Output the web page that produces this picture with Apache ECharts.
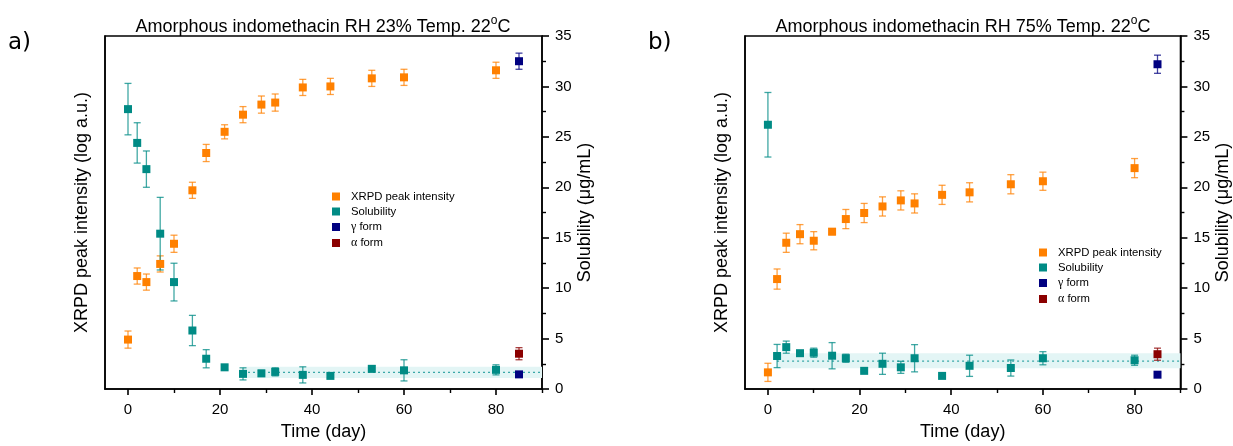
<!DOCTYPE html>
<html>
<head>
<meta charset="utf-8">
<script src="https://cdn.jsdelivr.net/npm/echarts@6/dist/echarts.min.js"></script>
<style>html,body{margin:0;padding:0;background:#fff;}#c{width:1233px;height:446px;}</style>
</head>
<body>
<div id="c"></div>
<script>
// ---------- data ----------
const days = [0, 2, 4, 7, 10, 14, 17, 21, 25, 29, 32, 38, 44, 53, 60, 80];
const formDay = 85;

// panel a) RH 23%
const xrpdA    = [4.9, 11.2, 10.6, 12.4, 14.4, 19.7, 23.4, 25.5, 27.2, 28.2, 28.4, 29.9, 30.0, 30.8, 30.9, 31.6];
const xrpdAErr = [0.85, 0.8, 0.8, 0.8, 0.85, 0.8, 0.85, 0.7, 0.8, 0.85, 0.85, 0.8, 0.8, 0.8, 0.8, 0.8];
const solA     = [27.75, 24.4, 21.8, 15.4, 10.6, 5.8, 3.0, 2.15, 1.5, 1.55, 1.7, 1.4, 1.3, 2.0, 1.85, 1.9];
const solAErr  = [2.55, 2.0, 1.8, 3.6, 1.87, 1.5, 0.9, 0.2, 0.6, 0.3, 0.4, 0.8, 0.2, 0.3, 1.05, 0.5];
const gammaA    = [32.5, 1.45];
const gammaAErr = [0.8, 0.2];
const alphaA    = [3.5];
const alphaAErr = [0.6];
const bandA = {from: 25, mean: 1.65, low: 1.1, high: 2.2};

// panel b) RH 75%
const xrpdB    = [1.65, 10.9, 14.5, 15.35, 14.7, 15.6, 16.85, 17.45, 18.1, 18.7, 18.4, 19.25, 19.5, 20.3, 20.6, 21.9];
const xrpdBErr = [0.9, 1.0, 0.95, 0.95, 0.9, 0.3, 0.95, 0.95, 0.95, 0.95, 0.95, 0.95, 0.95, 0.95, 0.9, 0.95];
const solB     = [26.2, 3.27, 4.15, 3.55, 3.6, 3.3, 3.05, 1.8, 2.5, 2.15, 3.05, 1.3, 2.3, 2.08, 3.05, 2.85];
const solBErr  = [3.2, 1.15, 0.6, 0.2, 0.45, 1.3, 0.4, 0.1, 1.05, 0.6, 1.35, 0.1, 1.05, 0.8, 0.65, 0.5];
const gammaB    = [32.2, 1.42];
const gammaBErr = [0.9, 0.2];
const alphaB    = [3.45];
const alphaBErr = [0.6];
const bandB = {from: 2, mean: 2.77, low: 2.05, high: 3.55};

const xTicks = [0, 20, 40, 60, 80];
const xMinorTicks = [10, 30, 50, 70, 90];
const seriesNames = ['XRPD peak intensity', 'Solubility', 'γ form', 'α form'];
const titles = ['Amorphous indomethacin RH 23% Temp. 22', 'Amorphous indomethacin RH 75% Temp. 22'];

// ---------- styling ----------
const COL = {xrpd: '#ff8000', sol: '#008b85', gamma: '#000080', alpha: '#8b0000'};
const FONT = 'Liberation Sans, Arial, sans-serif';

const chart = echarts.init(document.getElementById('c'), null, {renderer: 'canvas'});

function pts(xs, ys, es) { return ys.map((v, i) => [xs[i], v, es[i]]); }
function same(x, ys, es) { return ys.map((v, i) => [x, v, es[i]]); }

function errSeries(data, color, gi) {
  return {
    type: 'custom', xAxisIndex: gi * 2, yAxisIndex: gi * 2 + 1, z: 3, silent: true,
    data: data, encode: {x: 0, y: 1},
    renderItem: function (params, api) {
      const x = api.value(0), y = api.value(1), e = api.value(2);
      const t = api.coord([x, y + e]), b = api.coord([x, y - e]);
      const hw = 3.5;
      const st = {stroke: color, lineWidth: 1.3, opacity: 0.75};
      return {type: 'group', children: [
        {type: 'line', shape: {x1: t[0], y1: t[1], x2: b[0], y2: b[1]}, style: st},
        {type: 'line', shape: {x1: t[0] - hw, y1: t[1], x2: t[0] + hw, y2: t[1]}, style: st},
        {type: 'line', shape: {x1: b[0] - hw, y1: b[1], x2: b[0] + hw, y2: b[1]}, style: st}
      ]};
    }
  };
}
function scat(name, data, color, gi) {
  return {
    type: 'scatter', name: name, xAxisIndex: gi * 2, yAxisIndex: gi * 2 + 1, z: 4,
    symbol: 'rect', symbolSize: 8, itemStyle: {color: color, opacity: 1},
    data: data.map(d => [d[0], d[1]])
  };
}
function band(b, gi) {
  return {
    type: 'line', xAxisIndex: gi * 2, yAxisIndex: gi * 2 + 1, z: 2, silent: true,
    showSymbol: false, symbol: 'none',
    data: [[b.from, b.mean], [90, b.mean]],
    lineStyle: {color: '#3aa8a8', width: 1.2, type: [2, 3]},
    markArea: {silent: true, itemStyle: {color: '#e3f5f5'},
      data: [[{coord: [b.from, b.low]}, {coord: [90, b.high]}]]}
  };
}

const grids = [
  {left: 105, top: 36, width: 437, height: 353},
  {left: 745, top: 36, width: 437, height: 353}
];

const xAxes = [], yAxes = [];
grids.forEach((g, gi) => {
  xAxes.push({
    type: 'value', gridIndex: gi, min: -5, max: 90,
    name: 'Time (day)', nameLocation: 'middle', nameGap: 34,
    nameTextStyle: {fontFamily: FONT, fontSize: 18, color: '#000'},
    axisLine: {show: true, onZero: false, lineStyle: {color: '#000', width: 1.6}},
    axisTick: {show: true, length: 6, customValues: xTicks, lineStyle: {color: '#000', width: 1.6}},
    axisLabel: {show: true, customValues: xTicks, margin: 13, fontFamily: FONT, fontSize: 15, color: '#000'},
    splitLine: {show: false}
  });
  // minor ticks axis
  xAxes.push({
    type: 'value', gridIndex: gi, min: -5, max: 90, position: 'bottom',
    axisLine: {show: false, onZero: false},
    axisTick: {show: true, length: 4, customValues: xMinorTicks, lineStyle: {color: '#000', width: 1.4}},
    axisLabel: {show: false}, splitLine: {show: false}
  });
  yAxes.push({
    type: 'value', gridIndex: gi, min: 0, max: 35, interval: 5, position: 'left',
    name: 'XRPD peak intensity (log a.u.)', nameLocation: 'middle', nameGap: 14, nameRotate: 90,
    nameTextStyle: {fontFamily: FONT, fontSize: 18, color: '#000'},
    axisLine: {show: true, onZero: false, lineStyle: {color: '#000', width: 1.6}},
    axisTick: {show: false}, axisLabel: {show: false}, splitLine: {show: false}
  });
  yAxes.push({
    type: 'value', gridIndex: gi, min: 0, max: 35, interval: 5, position: 'right',
    name: 'Solubility (μg/mL)', nameLocation: 'middle', nameGap: 33, nameRotate: 90,
    nameTextStyle: {fontFamily: FONT, fontSize: 18, color: '#000'},
    axisLine: {show: true, onZero: false, lineStyle: {color: '#000', width: 1.6}},
    axisTick: {show: true, length: 7, lineStyle: {color: '#000', width: 1.6}},
    minorTick: {show: true, splitNumber: 2, length: 4, lineStyle: {color: '#000', width: 1.4}},
    axisLabel: {show: true, margin: 13, fontFamily: FONT, fontSize: 15, color: '#000'},
    splitLine: {show: false}
  });
});

const series = [
  band(bandA, 0),
  errSeries(pts(days, xrpdA, xrpdAErr), COL.xrpd, 0),
  errSeries(pts(days, solA, solAErr), COL.sol, 0),
  errSeries(same(formDay, gammaA, gammaAErr), COL.gamma, 0),
  errSeries(same(formDay, alphaA, alphaAErr), COL.alpha, 0),
  scat(seriesNames[0], pts(days, xrpdA, xrpdAErr), COL.xrpd, 0),
  scat(seriesNames[1], pts(days, solA, solAErr), COL.sol, 0),
  scat(seriesNames[2], same(formDay, gammaA, gammaAErr), COL.gamma, 0),
  scat(seriesNames[3], same(formDay, alphaA, alphaAErr), COL.alpha, 0),
  band(bandB, 1),
  errSeries(pts(days, xrpdB, xrpdBErr), COL.xrpd, 1),
  errSeries(pts(days, solB, solBErr), COL.sol, 1),
  errSeries(same(formDay, gammaB, gammaBErr), COL.gamma, 1),
  errSeries(same(formDay, alphaB, alphaBErr), COL.alpha, 1),
  scat(seriesNames[0], pts(days, xrpdB, xrpdBErr), COL.xrpd, 1),
  scat(seriesNames[1], pts(days, solB, solBErr), COL.sol, 1),
  scat(seriesNames[2], same(formDay, gammaB, gammaBErr), COL.gamma, 1),
  scat(seriesNames[3], same(formDay, alphaB, alphaBErr), COL.alpha, 1)
];

function legend(left, top) {
  return {
    data: seriesNames, orient: 'vertical', left: left, top: top,
    icon: 'rect', itemWidth: 8, itemHeight: 8, itemGap: 4, selectedMode: false,
    textStyle: {fontFamily: FONT, fontSize: 11.3, color: '#000', padding: [0, 0, 0, 6],
      rich: {g: {fontFamily: 'Liberation Serif, Times New Roman, serif', fontSize: 12}}},
    formatter: function (n) {
      if (n === 'γ form') return '{g|γ} form';
      if (n === 'α form') return '{g|α} form';
      return n;
    }
  };
}

function titleGraphic(txt, cx) {
  return {
    type: 'text', x: cx, y: 14, z: 10,
    style: {
      text: '{n|' + txt + '}{s|o}{n|C}', align: 'center', verticalAlign: 'top',
      rich: {
        n: {fontFamily: FONT, fontSize: 18, color: '#000', lineHeight: 22, verticalAlign: 'bottom'},
        s: {fontFamily: FONT, fontSize: 12, color: '#000', lineHeight: 22, verticalAlign: 'top', padding: [1, 0, 0, 0]}
      }
    }
  };
}

chart.setOption({
  backgroundColor: '#fff',
  animation: false,
  grid: grids.map(g => Object.assign({show: true, borderColor: '#000', borderWidth: 1.4, backgroundColor: 'transparent'}, g)),
  xAxis: xAxes,
  yAxis: yAxes,
  legend: [legend(327, 186), legend(1034, 242)],
  series: series,
  graphic: [
    titleGraphic(titles[0], 323),
    titleGraphic(titles[1], 963),
    {type: 'text', x: 8, y: 32, style: {text: 'a)', fontFamily: 'DejaVu Sans, sans-serif', fontSize: 23, fill: '#000'}},
    {type: 'text', x: 648, y: 32, style: {text: 'b)', fontFamily: 'DejaVu Sans, sans-serif', fontSize: 23, fill: '#000'}}
  ]
});
</script>
</body>
</html>
